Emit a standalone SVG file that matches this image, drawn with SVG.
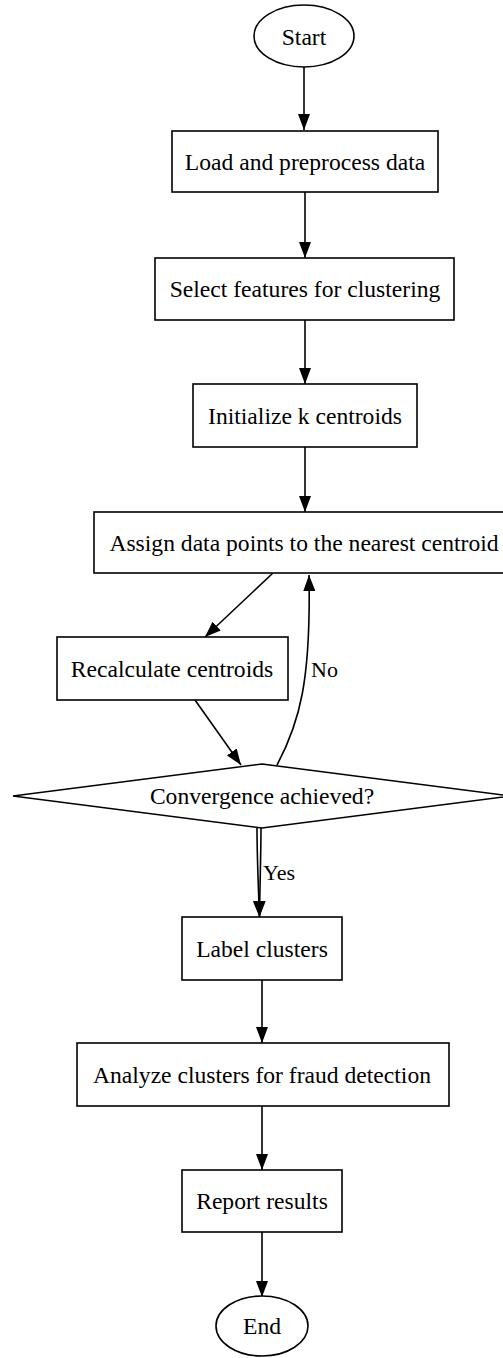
<svg xmlns="http://www.w3.org/2000/svg" width="503" height="1358" viewBox="0 0 503 1358">
<style>
.n{fill:#fff;stroke:#000;stroke-width:1.6}
.t{font-size:23.6px;fill:#000;text-anchor:middle}
.l{font-size:22px;fill:#000}
.e{fill:none;stroke:#000;stroke-width:1.6}
</style>
<defs>
<marker id="ah" viewBox="0 0 16 12" markerWidth="16" markerHeight="12" refX="16" refY="6" orient="auto" markerUnits="userSpaceOnUse">
<path d="M0,0 L16,6 L0,12 z" fill="#000"/>
</marker>
</defs>
<rect width="503" height="1358" fill="#fff"/>
<g font-family="'Liberation Serif', 'Times New Roman', Times, serif">
<g id="connectors">
<path class="e" d="M304,67 L304,130" marker-end="url(#ah)"/>
<path class="e" d="M305,192 L305,258" marker-end="url(#ah)"/>
<path class="e" d="M305,320 L305,384" marker-end="url(#ah)"/>
<path class="e" d="M305,447 L305,512" marker-end="url(#ah)"/>
<path class="e" d="M273,573 L205,637" marker-end="url(#ah)"/>
<path class="e" d="M195,700 L241,765" marker-end="url(#ah)"/>
<path class="e" d="M277,765 C300,722 311,680 309,575" marker-end="url(#ah)"/>
<text class="l" x="311" y="677">No</text>
<path class="e" d="M257,828 C257,850 258,880 259.5,917" marker-end="url(#ah)"/>
<path class="e" d="M261,828 C261,850 260,880 259.5,917" marker-end="url(#ah)"/>
<text class="l" x="263" y="880">Yes</text>
<path class="e" d="M262,980 L262,1043" marker-end="url(#ah)"/>
<path class="e" d="M262,1106 L262,1170" marker-end="url(#ah)"/>
<path class="e" d="M262,1232 L262,1297" marker-end="url(#ah)"/>
</g>
<g id="start"><ellipse class="n" cx="304" cy="36" rx="50" ry="31"/><text class="t" x="304" y="45">Start</text></g>
<g id="load"><rect class="n" x="172" y="131" width="266" height="61"/><text class="t" x="305" y="170">Load and preprocess data</text></g>
<g id="select"><rect class="n" x="155" y="258" width="299" height="62"/><text class="t" x="305" y="297">Select features for clustering</text></g>
<g id="init"><rect class="n" x="193" y="384" width="224" height="63"/><text class="t" x="305" y="424">Initialize k centroids</text></g>
<g id="assign"><rect class="n" x="94" y="512" width="422" height="61"/><text class="t" x="304" y="551">Assign data points to the nearest centroid</text></g>
<g id="recalc"><rect class="n" x="57" y="637" width="231" height="63"/><text class="t" x="172" y="677">Recalculate centroids</text></g>
<g id="converge"><polygon class="n" points="262,764 511,796 262,828 13,796"/><text class="t" x="262" y="804">Convergence achieved?</text></g>
<g id="label"><rect class="n" x="182" y="917" width="160" height="63"/><text class="t" x="262" y="957">Label clusters</text></g>
<g id="analyze"><rect class="n" x="77" y="1043" width="372" height="63"/><text class="t" x="262" y="1083">Analyze clusters for fraud detection</text></g>
<g id="report"><rect class="n" x="182" y="1170" width="160" height="62"/><text class="t" x="262" y="1209">Report results</text></g>
<g id="end"><ellipse class="n" cx="262" cy="1326" rx="46" ry="30"/><text class="t" x="262" y="1334">End</text></g>
</g>
</svg>
